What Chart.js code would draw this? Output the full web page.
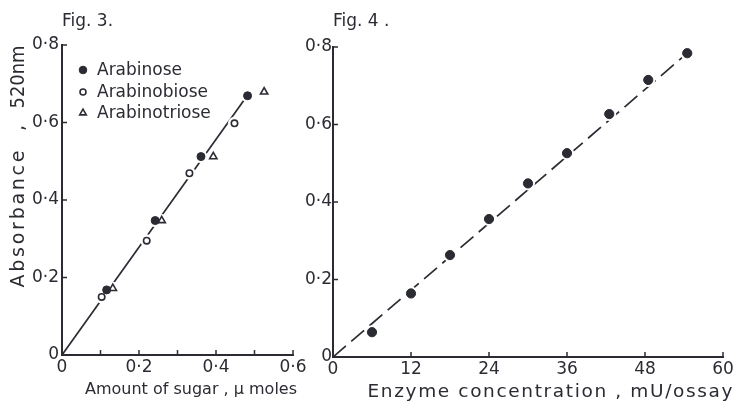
<!DOCTYPE html>
<html>
<head>
<meta charset="utf-8">
<script src="https://cdn.jsdelivr.net/npm/chart.js@4.4.0/dist/chart.umd.min.js"></script>
<style>
    html, body { margin: 0; padding: 0; background: #fff; }
    #wrap { position: relative; width: 736px; height: 402px; overflow: hidden; }
    #fig3 { position: absolute; left: 0; top: 0; }
    #fig4 { position: absolute; left: 300px; top: 0; }
</style>
</head>
<body>
<div id="wrap">
    <canvas id="fig3" width="310" height="402" style="width:310px;height:402px"></canvas>
    <canvas id="fig4" width="436" height="402" style="width:436px;height:402px"></canvas>
</div>
<script>
// Fig. 3 - absorbance vs amount of sugar (umoles)
const arabinoseX = [0.116, 0.242, 0.361, 0.482];
const arabinoseY = [0.168, 0.347, 0.512, 0.669];
const arabinobioseX = [0.103, 0.220, 0.331, 0.448];
const arabinobioseY = [0.150, 0.295, 0.469, 0.598];
const arabinotrioseX = [0.132, 0.259, 0.393, 0.525];
const arabinotrioseY = [0.172, 0.347, 0.512, 0.679];
const fig3LineX = [0, 0.48];
const fig3LineY = [0, 0.668];
const sugarTicks = [0, 0.1, 0.2, 0.3, 0.4, 0.5, 0.6];

// Fig. 4 - absorbance vs enzyme concentration (mU/assay)
const enzymeX = [6, 12, 18, 24, 30, 36, 42.5, 48.5, 54.5];
const enzymeY = [0.064, 0.164, 0.263, 0.356, 0.448, 0.526, 0.627, 0.715, 0.784];
const fig4LineX = [0, 54.5];
const fig4LineY = [0, 0.784];
const enzymeTicks = [0, 12, 24, 36, 48, 60];
const absTicks = [0, 0.2, 0.4, 0.6, 0.8];

const ink = '#2b2b33';
const fontFam = '"DejaVu Sans", sans-serif';

function toPoints(xs, ys) {
    return xs.map((x, i) => ({ x: x, y: ys[i] }));
}

// decimal point is printed as a raised dot
function fmtDec(v) {
    if (Math.abs(v) < 1e-9) return '0';
    return v.toFixed(1).replace('.', '\u00b7');
}

// write text so that it covers a given width
function fitText(ctx, text, x, y, width) {
    ctx.letterSpacing = '0px';
    const w0 = ctx.measureText(text).width;
    ctx.save();
    ctx.textAlign = 'left';
    if (w0 > width) {
        ctx.translate(x - width / 2, y);
        ctx.scale(width / w0, 1);
        ctx.fillText(text, 0, 0);
    } else {
        const sp = text.length > 1 ? (width - w0) / (text.length - 1) : 0;
        ctx.letterSpacing = sp + 'px';
        ctx.fillText(text, x - width / 2, y);
    }
    ctx.restore();
    ctx.letterSpacing = '0px';
}

// inward tick marks, axis titles and figure label
const decorations = {
    id: 'decorations',
    afterDraw(chart, args, opts) {
        const ctx = chart.ctx;
        const xs = chart.scales.x, ys = chart.scales.y;
        ctx.save();
        ctx.strokeStyle = ink;
        ctx.lineWidth = 1.5;
        ctx.beginPath();
        xs.ticks.forEach(t => {
            const px = xs.getPixelForValue(t.value);
            if (t.value === 0) return;
            ctx.moveTo(px, xs.top);
            ctx.lineTo(px, xs.top - 5);
        });
        ys.ticks.forEach(t => {
            const py = ys.getPixelForValue(t.value);
            if (t.value === 0) return;
            ctx.moveTo(ys.right, py);
            ctx.lineTo(ys.right + 5, py);
        });
        ctx.stroke();

        ctx.fillStyle = ink;
        ctx.textBaseline = 'middle';
        ctx.font = '17px ' + fontFam;
        ctx.textAlign = 'left';
        ctx.fillText(opts.fig, opts.figX, 22);

        ctx.font = opts.xTitle.size + 'px ' + fontFam;
        fitText(ctx, opts.xTitle.text, opts.xTitle.cx, opts.xTitle.cy, opts.xTitle.width);

        if (opts.yTitle) {
            ctx.font = '19px ' + fontFam;
            opts.yTitle.forEach(part => {
                ctx.save();
                ctx.translate(opts.yTitleX, part.cy);
                ctx.rotate(-Math.PI / 2);
                fitText(ctx, part.text, 0, 0, part.width);
                ctx.restore();
            });
        }

        if (opts.legend) {
            ctx.font = '17px ' + fontFam;
            ctx.textAlign = 'left';
            opts.legend.forEach((row, i) => {
                const ds = chart.data.datasets[row.index];
                const y = opts.legendY[i];
                ctx.fillStyle = ds.backgroundColor;
                ctx.strokeStyle = ds.borderColor;
                ctx.lineWidth = ds.borderWidth;
                Chart.helpers.drawPoint(ctx, {
                    pointStyle: ds.pointStyle,
                    radius: row.radius,
                    borderWidth: ds.borderWidth,
                    rotation: 0
                }, opts.legendX, y);
                ctx.fillStyle = ink;
                ctx.fillText(ds.label, opts.legendX + 14, y + 1);
            });
        }
        ctx.restore();
    }
};

function makeScales(xTicks, xMax, xTickFmt, xHeight, yWidth, yPad) {
    return {
        x: {
            type: 'linear', min: 0, max: xMax,
            afterFit: s => { s.height = xHeight; },
            afterBuildTicks: s => { s.ticks = xTicks.map(v => ({ value: v })); },
            grid: { display: false, drawTicks: false },
            border: { display: true, color: ink, width: 2 },
            ticks: {
                color: ink, padding: 2, maxRotation: 0, autoSkip: false,
                font: { family: fontFam, size: 17 },
                callback: xTickFmt
            }
        },
        y: {
            type: 'linear', min: 0, max: 0.8,
            afterFit: s => { s.width = yWidth; },
            afterBuildTicks: s => { s.ticks = absTicks.map(v => ({ value: v })); },
            grid: { display: false, drawTicks: false },
            border: { display: true, color: ink, width: 2 },
            ticks: {
                color: ink, padding: yPad, autoSkip: false,
                font: { family: fontFam, size: 17 },
                callback: v => fmtDec(v)
            }
        }
    };
}

const baseOptions = {
    responsive: false,
    animation: false,
    events: [],
    plugins: { legend: { display: false }, tooltip: { enabled: false } }
};

// Fig. 3
new Chart(document.getElementById('fig3').getContext('2d'), {
    type: 'scatter',
    data: {
        datasets: [
            {
                label: 'Arabinose', data: toPoints(arabinoseX, arabinoseY),
                pointStyle: 'circle', pointRadius: 4, backgroundColor: ink,
                borderColor: ink, borderWidth: 1, order: 0
            },
            {
                label: 'Arabinobiose', data: toPoints(arabinobioseX, arabinobioseY),
                pointStyle: 'circle', pointRadius: 3.2, backgroundColor: '#ffffff',
                borderColor: ink, borderWidth: 1.6, order: 0
            },
            {
                label: 'Arabinotriose', data: toPoints(arabinotrioseX, arabinotrioseY),
                pointStyle: 'triangle', pointRadius: 4.2, backgroundColor: '#ffffff',
                borderColor: ink, borderWidth: 1.6, order: 0
            },
            {
                label: 'gap',
                data: toPoints(arabinoseX.concat(arabinobioseX, arabinotrioseX),
                               arabinoseY.concat(arabinobioseY, arabinotrioseY)),
                pointRadius: 6.5, backgroundColor: '#ffffff', borderWidth: 0, order: 1
            },
            {
                label: 'fit', data: toPoints(fig3LineX, fig3LineY),
                showLine: true, pointRadius: 0, borderColor: ink, borderWidth: 1.7, order: 2
            }
        ]
    },
    options: Object.assign({}, baseOptions, {
        layout: { padding: { top: 45, right: 17, left: 0, bottom: 0 } },
        scales: makeScales(sugarTicks, 0.6, v => {
            const k = Math.round(v * 10);
            return k % 2 === 0 ? fmtDec(v) : '';
        }, 47, 62, 3),
        plugins: Object.assign({}, baseOptions.plugins, {
            decorations: {
                fig: 'Fig. 3.', figX: 62,
                xTitle: { text: 'Amount of sugar , \u00b5 moles', size: 16.5, cx: 191, cy: 390, width: 212 },
                yTitleX: 19,
                yTitle: [
                    { text: 'Absorbance', cy: 219, width: 137 },
                    { text: ',', cy: 128, width: 6 },
                    { text: '520nm', cy: 77, width: 63 }
                ],
                legendX: 83,
                legendY: [70, 92, 113],
                legend: [
                    { index: 0, radius: 3.8 },
                    { index: 1, radius: 3 },
                    { index: 2, radius: 3.8 }
                ]
            }
        })
    }),
    plugins: [decorations]
});

// Fig. 4
new Chart(document.getElementById('fig4').getContext('2d'), {
    type: 'scatter',
    data: {
        datasets: [
            {
                label: 'Activity', data: toPoints(enzymeX, enzymeY),
                pointStyle: 'circle', pointRadius: 4.6, backgroundColor: ink,
                borderColor: ink, borderWidth: 1, order: 0
            },
            {
                label: 'gap', data: toPoints(enzymeX, enzymeY),
                pointRadius: 7, backgroundColor: '#ffffff', borderWidth: 0, order: 1
            },
            {
                label: 'fit', data: toPoints(fig4LineX, fig4LineY),
                showLine: true, pointRadius: 0, borderColor: ink, borderWidth: 1.7,
                borderDash: [17, 7], order: 2
            }
        ]
    },
    options: Object.assign({}, baseOptions, {
        layout: { padding: { top: 47, right: 13, left: 0, bottom: 0 } },
        scales: makeScales(enzymeTicks, 60, v => String(v), 45, 33, 1),
        plugins: Object.assign({}, baseOptions.plugins, {
            decorations: {
                fig: 'Fig. 4 .', figX: 33,
                xTitle: { text: 'Enzyme concentration , mU/ossay', size: 18.5, cx: 250, cy: 392, width: 365 }
            }
        })
    }),
    plugins: [decorations]
});
</script>
</body>
</html>
